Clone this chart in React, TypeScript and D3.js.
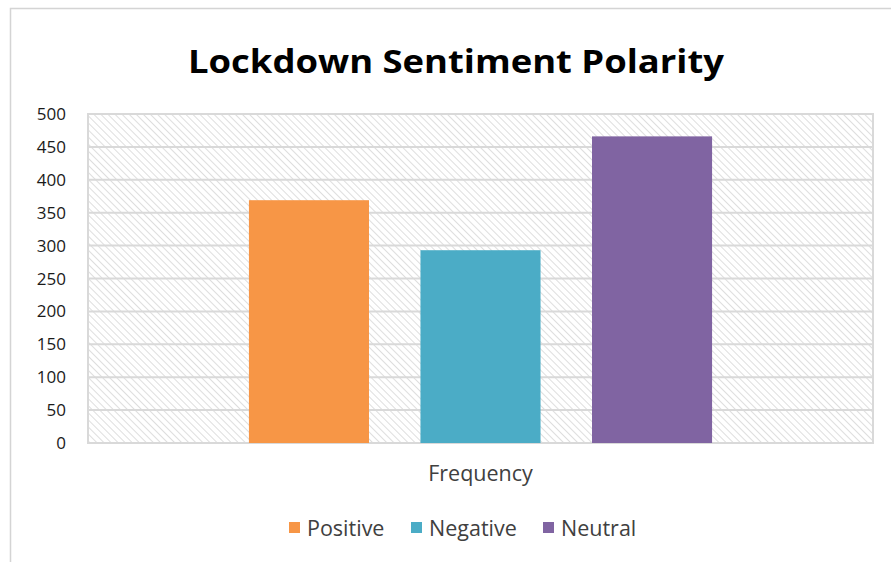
import React from 'react';
import * as d3 from 'd3';

const categories = ['Frequency'];
const seriesNames = ['Positive', 'Negative', 'Neutral'];
const seriesValues = [369, 293, 466];
const seriesColors = ['#f79646', '#4bacc6', '#8064a2'];
const yTicks = [0, 50, 100, 150, 200, 250, 300, 350, 400, 450, 500];

const W = 891;
const H = 562;
const plot = { left: 88, right: 873, top: 114, bottom: 443 };
const font = '"Open Sans", Lato, sans-serif';

const App: React.FC = () => {
  const y = d3.scaleLinear().domain([0, 500]).range([plot.bottom, plot.top]);
  const x0 = d3.scaleBand<string>()
    .domain(categories)
    .range([plot.left, plot.right])
    .paddingInner(0.41)
    .paddingOuter(0.205);
  const x1 = d3.scaleBand<string>()
    .domain(seriesNames)
    .range([0, x0.bandwidth()])
    .paddingInner(0.3);

  const legendX = [289, 411, 543];

  return (
    <svg width={W} height={H} style={{ position: 'absolute', left: 0, top: 0 }}>
      <defs>
        <pattern id="hatch" width="5" height="5" patternUnits="userSpaceOnUse" patternTransform="rotate(-45)">
          <rect width="5" height="5" fill="#ffffff" />
          <line x1="0" y1="0" x2="0" y2="5" stroke="#d0d0d0" strokeWidth="1.4" />
        </pattern>
      </defs>
      <rect x={0} y={0} width={W} height={H} fill="#fff" />
      <rect x={10.5} y={8.5} width={W + 20} height={H + 20} fill="#fff" stroke="#d4d4d4" strokeWidth={1.5} />
      <text x={456} y={73} textAnchor="middle" fontFamily={font} fontWeight="bold" fontSize={33}
        textLength={536} lengthAdjust="spacingAndGlyphs" fill="#000">
        Lockdown Sentiment Polarity
      </text>
      <rect x={plot.left} y={plot.top} width={plot.right - plot.left} height={plot.bottom - plot.top}
        fill="url(#hatch)" stroke="#d9d9d9" strokeWidth={2} />
      {yTicks.map(t => (
        <g key={t}>
          <line x1={plot.left} x2={plot.right} y1={y(t)} y2={y(t)} stroke="#d9d9d9" strokeWidth={2} />
          <text x={66} y={y(t) + 6} textAnchor="end" fontFamily={font} fontSize={17} fill="#1a1a1a">{t}</text>
        </g>
      ))}
      {categories.map(c => (
        <g key={c} transform={`translate(${x0(c)},0)`}>
          {seriesNames.map((s, i) => (
            <rect key={s} x={x1(s)} y={y(seriesValues[i])} width={x1.bandwidth()}
              height={y(0) - y(seriesValues[i])} fill={seriesColors[i]} />
          ))}
          <text x={x0.bandwidth() / 2} y={481} textAnchor="middle" fontFamily={font} fontSize={21.5} fill="#404040">{c}</text>
        </g>
      ))}
      {seriesNames.map((s, i) => (
        <g key={s} transform={`translate(${legendX[i]},0)`}>
          <rect x={0} y={522} width={11} height={11} fill={seriesColors[i]} />
          <text x={18} y={536} fontFamily={font} fontSize={21.5} fill="#404040">{s}</text>
        </g>
      ))}
    </svg>
  );
};

export default App;
